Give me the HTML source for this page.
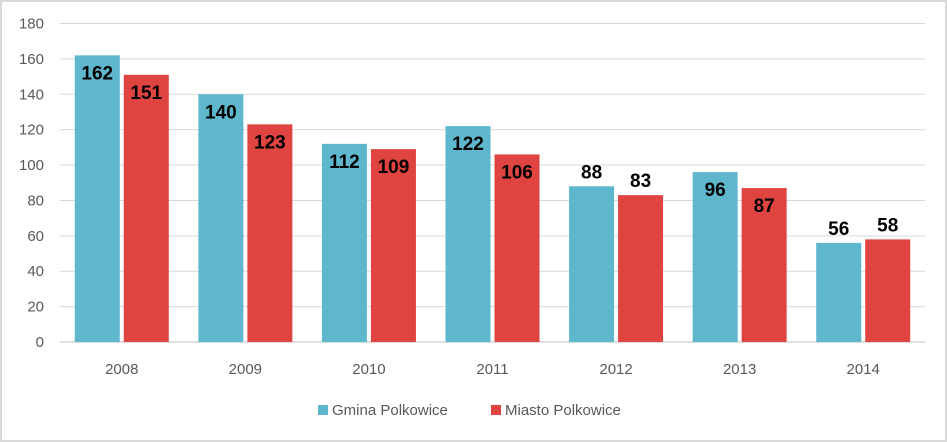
<!DOCTYPE html>
<html><head><meta charset="utf-8"><style>
body{margin:0;background:#fff}
svg{display:block;font-family:"Liberation Sans",Calibri,sans-serif}
</style></head><body>
<svg id="c" width="947" height="442">
<rect x="1" y="1" width="945" height="440" fill="#fff" stroke="#d9d9d9" stroke-width="2"/>
<g id="grid"></g><g id="bars"></g>
<g>
<rect x="318" y="405" width="10" height="10" fill="#5eb7cc"/>
<text x="332" y="415" font-size="15" fill="#595959">Gmina Polkowice</text>
<rect x="491" y="405" width="10" height="10" fill="#e04441"/>
<text x="505" y="415" font-size="15" fill="#595959">Miasto Polkowice</text>
</g>
</svg>
<script>
const categories=["2008","2009","2010","2011","2012","2013","2014"];
const gmina=[162,140,112,122,88,96,56];
const miasto=[151,123,109,106,83,87,58];
const gminaLabelPos=["in","in","in","in","out","in","out"];
const miastoLabelPos=["in","in","in","in","out","in","out"];
const yTicks=[0,20,40,60,80,100,120,140,160,180];
const NS="http://www.w3.org/2000/svg";
const y0=342,yTop=23.5,yMax=180,left=60,right=925;
const y=v=>y0-(v/yMax)*(y0-yTop);
const step=(right-left)/categories.length;
const cx=i=>left+step*(i+0.5);
function el(t,a,p){const e=document.createElementNS(NS,t);for(const k in a)e.setAttribute(k,a[k]);p.appendChild(e);return e;}
const grid=document.getElementById('grid'),bars=document.getElementById('bars');
yTicks.forEach(v=>{
 const l=el('line',{x1:left,x2:right,y1:y(v),y2:y(v),stroke:v===0?'#bfbfbf':'#d9d9d9','stroke-width':1},grid);
 
 
 const t=el('text',{x:44,y:y(v)+5,'text-anchor':'end','font-size':15,fill:'#595959'},grid);
 t.textContent=v;
 
 
});
const bw=45,gap=4;
function bar(i,v,pos,x,color,name){
 const r=el('rect',{x:x,y:y(v),width:bw,height:y0-y(v),fill:color},bars);
 
 
 const ty=pos==='in'?y(v)+24:y(v)-8;
 const t=el('text',{x:x+bw/2,y:ty,'text-anchor':'middle','font-size':19,'font-weight':'bold',fill:'#000'},bars);
 t.textContent=v;
 
 
}
categories.forEach((c,i)=>{
 const m=cx(i);
 bar(i,gmina[i],gminaLabelPos[i],m-bw-gap/2,'#5eb7cc','gmina');
 bar(i,miasto[i],miastoLabelPos[i],m+gap/2,'#e04441','miasto');
 const t=el('text',{x:m,y:374,'text-anchor':'middle','font-size':15,fill:'#595959'},bars);
 t.textContent=c;
 
 
});
</script>
</body></html>
